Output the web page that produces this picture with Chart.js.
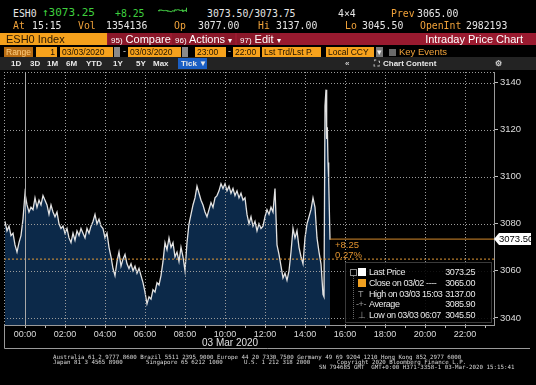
<!DOCTYPE html>
<html>
<head>
<meta charset="utf-8">
<script src="https://cdn.jsdelivr.net/npm/chart.js@4.4.0/dist/chart.umd.min.js"></script>
<style>
  body { margin: 0; background: #000; width: 536px; height: 385px; overflow: hidden; position: relative; font-family: "Liberation Sans", Arial, sans-serif; }
  .a { position: absolute; white-space: pre; }
  .m { font-family: "DejaVu Sans Mono", monospace; font-size: 9.8px; line-height: 12px; }
  .w { color: #e6e6e6; }
  .o { color: #f0a23a; }
  .g { color: #3fd03f; }
  .ob { position: absolute; top: 47px; height: 10px; background: #f7a21c; color: #1d1200; font-size: 8.5px; line-height: 10px; padding: 0 2px; box-sizing: border-box; white-space: pre; }
  .tb { position: absolute; top: 57px; font-size: 8px; line-height: 13px; color: #e8e8e8; font-weight: bold; }
  .btn { position: absolute; top: 33px; height: 12px; background: #8a1729; color: #fff; font-size: 11px; line-height: 12px; white-space: pre; }
  .btn small { font-size: 8px; }
  #legend { position: absolute; left: 345px; top: 262px; width: 147px; height: 61px; background: rgba(0,0,0,0.88); border: 1px solid #3a3a3a; box-sizing: border-box; z-index: 5; }
  .lr { position: absolute; left: 0; width: 145px; height: 10px; font-size: 9px; letter-spacing: -0.4px; line-height: 10px; color: #e8e8e8; }
  .lr .t { position: absolute; left: 23px; }
  .lr .v { position: absolute; right: 16px; }
  .lr .i { position: absolute; left: 12px; color: #9a9a9a; }
  .ft { position: absolute; font-family: "DejaVu Sans Mono", monospace; font-size: 5.8px; line-height: 6px; color: #d8d8d8; white-space: pre; }
</style>
</head>
<body>
<!-- ligne 1 / ligne 2 : cotation -->
<span class="a m w" style="left:13px;top:8px;">ESH0</span>
<span class="a m g" style="left:42px;top:7px;font-size:11px;">↑3073.25</span>
<span class="a m g" style="left:115px;top:8px;">+8.25</span>
<canvas id="spark" width="31" height="11" style="position:absolute;left:157px;top:4px;"></canvas>
<span class="a m w" style="left:207px;top:8px;">3073.50/3073.75</span>
<span class="a m w" style="left:338px;top:8px;">4×4</span>
<span class="a m o" style="left:391px;top:8px;">Prev</span>
<span class="a m w" style="left:417px;top:8px;">3065.00</span>

<span class="a m o" style="left:13px;top:20px;">At</span>
<span class="a m w" style="left:32px;top:20px;">15:15</span>
<span class="a m o" style="left:78px;top:20px;">Vol</span>
<span class="a m w" style="left:106px;top:20px;">1354136</span>
<span class="a m o" style="left:174px;top:20px;">Op</span>
<span class="a m w" style="left:198px;top:20px;">3077.00</span>
<span class="a m o" style="left:258px;top:20px;">Hi</span>
<span class="a m w" style="left:276px;top:20px;">3137.00</span>
<span class="a m o" style="left:345px;top:20px;">Lo</span>
<span class="a m w" style="left:362px;top:20px;">3045.50</span>
<span class="a m o" style="left:420px;top:20px;">OpenInt</span>
<span class="a m w" style="left:466px;top:20px;">2982193</span>

<!-- ligne 3 : barre rouge -->
<div class="a" style="left:0;top:33px;width:107px;height:12px;background:#f5a11c;color:#2a1800;font-size:11px;line-height:12px;padding-left:6px;box-sizing:border-box;">ESH0 Index</div>
<div class="a" style="left:107px;top:33px;width:429px;height:12px;background:#991a2f;"></div>
<div class="btn" style="left:108px;width:62px;padding-left:3px;box-sizing:border-box;"><small>95)</small> Compare</div>
<div class="btn" style="left:172px;width:63px;padding-left:3px;box-sizing:border-box;"><small>96)</small> Actions <small>▾</small></div>
<div class="btn" style="left:237px;width:43px;padding-left:3px;box-sizing:border-box;"><small>97)</small> Edit <small>▾</small></div>
<div class="a" style="right:13px;top:33px;height:12px;color:#fff;font-size:11px;line-height:12px;">Intraday Price Chart</div>

<!-- ligne 4 : range -->
<div class="ob" style="left:4px;width:29px;background:#b86c12;color:#ffcf80;">Range</div>
<div class="ob" style="left:36px;width:21px;text-align:right;">1</div>
<div class="ob" style="left:60px;width:53px;">03/03/2020</div>
<div class="ob" style="left:114px;width:6px;background:#8a8a8a;"></div>
<span class="a" style="left:123px;top:46px;color:#ddd;font-size:9px;">-</span>
<div class="ob" style="left:128px;width:53px;">03/03/2020</div>
<div class="ob" style="left:182px;width:6px;background:#8a8a8a;"></div>
<div class="ob" style="left:195px;width:31px;">23:00</div>
<span class="a" style="left:228px;top:46px;color:#ddd;font-size:9px;">-</span>
<div class="ob" style="left:233px;width:27px;">22:00</div>
<div class="ob" style="left:262px;width:59px;">Lst Trd/Lst P.</div>
<div class="ob" style="left:326px;width:48px;">Local CCY</div>
<div class="ob" style="left:376px;width:7px;background:#7a7a7a;color:#eee;padding:0 1px;">▾</div>
<div class="a" style="left:389px;top:49px;width:7px;height:7px;background:#6a6a6a;"></div>
<span class="a" style="left:399px;top:46px;color:#f0a23a;font-size:9.5px;line-height:11px;">Key Events</span>

<!-- ligne 5 : barre d'outils -->
<div class="a" style="left:0;top:57px;width:536px;height:13px;background:#232323;"></div>
<span class="tb" style="left:11px;">1D</span>
<span class="tb" style="left:30px;">3D</span>
<span class="tb" style="left:47px;">1M</span>
<span class="tb" style="left:66px;">6M</span>
<span class="tb" style="left:86px;">YTD</span>
<span class="tb" style="left:113px;">1Y</span>
<span class="tb" style="left:136px;">5Y</span>
<span class="tb" style="left:153px;">Max</span>
<div class="a" style="left:178px;top:58px;width:29px;height:11px;background:#1b5fc4;"></div>
<span class="tb" style="left:181px;">Tick ▼</span>
<span class="tb" style="left:345px;color:#cfcfcf;">«</span>
<span class="tb" style="left:374px;color:#bbb;">⛶</span>
<span class="tb" style="left:383px;">Chart Content</span>
<span class="tb" style="left:495px;color:#cfcfcf;">⚙</span>

<!-- graphique -->
<div style="position:absolute;left:0;top:70px;width:536px;height:280px;">
  <canvas id="priceChart"></canvas>
</div>
<span class="a" style="left:202px;top:337px;color:#e0e0e0;font-size:10px;">03 Mar 2020</span>

<!-- legende -->
<div id="legend">
  <div class="a" style="left:7px;top:8px;width:0;height:48px;border-left:1px dotted #666;"></div>
  <div class="lr" style="top:4px;"><span class="a" style="left:4px;top:2px;width:5px;height:5px;border:1px solid #888;background:#000;"></span><span class="a" style="left:12px;top:1px;width:8px;height:8px;background:#fff;"></span><span class="t">Last Price</span><span class="v">3073.25</span></div>
  <div class="lr" style="top:15px;"><span class="a" style="left:12px;top:1px;width:8px;height:8px;background:#f0a020;"></span><span class="t">Close on 03/02 ----</span><span class="v">3065.00</span></div>
  <div class="lr" style="top:25.5px;"><span class="i">T</span><span class="t">High on 03/03 15:03</span><span class="v">3137.00</span></div>
  <div class="lr" style="top:36px;"><span class="i" style="left:10px;">-+-</span><span class="t">Average</span><span class="v">3085.90</span></div>
  <div class="lr" style="top:46.5px;"><span class="i">⊥</span><span class="t">Low on 03/03 06:07</span><span class="v">3045.50</span></div>
</div>

<!-- pied de page -->
<div class="ft" style="left:53px;top:354px;">Australia 61 2 9777 8600 Brazil 5511 2395 9000 Europe 44 20 7330 7500 Germany 49 69 9204 1210 Hong Kong 852 2977 6000</div>
<div class="ft" style="left:53px;top:359px;">Japan 81 3 4565 8900</div>
<div class="ft" style="left:146px;top:359px;">Singapore 65 6212 1000</div>
<div class="ft" style="left:244px;top:359px;">U.S. 1 212 318 2000</div>
<div class="ft" style="left:337px;top:359px;">Copyright 2020 Bloomberg Finance L.P.</div>
<div class="ft" style="left:319px;top:364px;">SN 794685 GMT  GMT+0:00 H371-3358-1 03-Mar-2020 15:15:41</div>

<script>
// Ticks toutes les 6 minutes à partir de 23:00 (la veille) = -60 min
const startMinute = -60;
const stepMinute = 6;
const tickPrices = [
    3081, 3077, 3079, 3075, 3076, 3071, 3068, 3072, 3075, 3082,
    3093, 3088, 3085, 3087, 3086, 3091, 3087, 3090, 3088, 3092,
    3090, 3088, 3084, 3088, 3085, 3083, 3085, 3080, 3078, 3079,
    3076, 3078, 3074, 3072, 3076, 3073, 3077, 3075, 3078, 3076,
    3074, 3078, 3076, 3079, 3081, 3084, 3080, 3082, 3079, 3078,
    3074, 3076, 3070, 3066, 3061, 3058, 3064, 3068, 3062, 3065,
    3067, 3063, 3061, 3063, 3060, 3062, 3059, 3061, 3058, 3055,
    3051, 3046, 3049, 3048, 3052, 3051, 3055, 3054, 3058, 3064,
    3072, 3069, 3074, 3070, 3072, 3066, 3068, 3064, 3070, 3066,
    3060, 3072, 3080, 3084, 3088, 3091, 3096, 3093, 3090, 3088,
    3085, 3083, 3086, 3089, 3087, 3091, 3092, 3094, 3097, 3095,
    3097, 3094, 3096, 3093, 3095, 3092, 3094, 3091, 3093, 3090,
    3091, 3084, 3080, 3083, 3079, 3081, 3077, 3080, 3078, 3079,
    3083, 3086, 3084, 3087, 3085, 3095, 3071, 3067, 3062, 3057,
    3059, 3056, 3060, 3068, 3078, 3074, 3077, 3070, 3066, 3063,
    3074, 3080, 3083, 3086, 3091, 3087, 3074, 3068, 3063, 3050
];
// pic de 15:00 (plus fin)
const spikeMinutes = [897, 900, 903, 905, 907, 909, 911, 913, 915];
const spikePrices = [3049, 3130, 3137, 3116, 3121, 3106, 3099, 3086, 3073.25];

const tickHours = [0, 1, 2, 3, 4, 5, 6, 7, 8, 9, 10, 11, 12, 13, 14, 15, 16, 17, 18, 19, 20, 21, 22, 23];
const priceTicks = [3040, 3060, 3080, 3100, 3120, 3140];
const prevClose = 3065;
const lastQuote = 3073.5;
const xMin = -63, xMax = 1407;
const yMin = 3037, yMax = 3144.5;

const pricePoints = tickPrices.map((p, i) => ({ x: startMinute + i * stepMinute, y: p }))
    .concat(spikeMinutes.map((m, i) => ({ x: m, y: spikePrices[i] })));
const lastMinute = spikeMinutes[spikeMinutes.length - 1];

const FONT = '"Liberation Sans", Arial, sans-serif';
const GRID = '#9c9c9c';

// traits pointillés de la grille, au-dessus du remplissage
function dotted(ctx, x1, y1, x2, y2) {
    ctx.beginPath();
    ctx.moveTo(x1, y1);
    ctx.lineTo(x2, y2);
    ctx.stroke();
}

const overlayPlugin = {
    id: 'overlay',
    afterDatasetsDraw(chart) {
        const { ctx, chartArea: ca, scales: { x, y } } = chart;
        ctx.save();
        ctx.lineWidth = 1;
        ctx.strokeStyle = GRID;
        ctx.setLineDash([1, 2]);
        priceTicks.forEach(v => {
            const py = Math.round(y.getPixelForValue(v)) + 0.5;
            dotted(ctx, ca.left, py, ca.right, py);
        });
        tickHours.forEach(h => {
            if (h % 2 !== 0 || h === 0) return;
            const px = Math.round(x.getPixelForValue(h * 60)) + 0.5;
            dotted(ctx, px, ca.top, px, ca.bottom);
        });
        // bord gauche et haut
        dotted(ctx, ca.left + 0.5, ca.top, ca.left + 0.5, ca.bottom);
        dotted(ctx, ca.left, ca.top + 0.5, ca.right, ca.top + 0.5);
        ctx.setLineDash([]);
        // séparation du jour (00:00)
        ctx.strokeStyle = '#a8a8a8';
        const p0 = Math.round(x.getPixelForValue(0)) + 0.5;
        dotted(ctx, p0, ca.top, p0, ca.bottom);
        // cadre de l'axe du temps
        ctx.strokeStyle = '#9a9a9a';
        ctx.beginPath();
        ctx.moveTo(ca.left + 0.5, ca.bottom);
        ctx.lineTo(ca.left + 0.5, ca.bottom + 23.5);
        ctx.lineTo(530, ca.bottom + 23.5);
        ctx.stroke();

        // variation
        const lx = x.getPixelForValue(lastMinute);
        const ly = y.getPixelForValue(lastQuote);
        ctx.fillStyle = '#e0922e';
        ctx.font = '9.5px ' + FONT;
        ctx.textBaseline = 'middle';
        ctx.fillText('+8.25', lx + 5, ly + 6);
        ctx.fillText('0.27%', lx + 5, ly + 16);

        // étiquette du dernier cours
        const tx = ca.right + 2;
        ctx.fillStyle = '#ffffff';
        ctx.beginPath();
        ctx.moveTo(tx - 2, ly);
        ctx.lineTo(tx + 3, ly - 6);
        ctx.lineTo(tx + 35, ly - 6);
        ctx.lineTo(tx + 35, ly + 6);
        ctx.lineTo(tx + 3, ly + 6);
        ctx.closePath();
        ctx.fill();
        ctx.fillStyle = '#000';
        ctx.font = '9.5px ' + FONT;
        ctx.fillText('3073.50', tx + 3, ly + 0.5);
        ctx.restore();
    }
};

function hhmm(v) {
    const h = Math.round(v / 60);
    return (h < 10 ? '0' : '') + h + ':00';
}

document.addEventListener('DOMContentLoaded', () => {
    new Chart(document.getElementById('priceChart'), {
        type: 'line',
        data: {
            datasets: [
                {
                    data: [{ x: xMin, y: prevClose }, { x: xMax, y: prevClose }],
                    borderColor: '#e39a36',
                    borderWidth: 1,
                    borderDash: [2, 2],
                    pointRadius: 0,
                    fill: false,
                    order: 1
                },
                {
                    data: [{ x: lastMinute, y: lastQuote }, { x: xMax, y: lastQuote }],
                    borderColor: '#d68a2c',
                    borderWidth: 1,
                    pointRadius: 0,
                    fill: false,
                    order: 1
                },
                {
                    data: pricePoints,
                    borderColor: '#e2e2e2',
                    borderWidth: 1.3,
                    backgroundColor: '#0c2949',
                    fill: 'start',
                    pointRadius: 0,
                    tension: 0,
                    order: 2
                }
            ]
        },
        options: {
            responsive: true,
            maintainAspectRatio: false,
            animation: false,
            layout: { padding: { left: 4, top: 2, right: 0, bottom: 2 } },
            plugins: { legend: { display: false }, tooltip: { enabled: false } },
            scales: {
                x: {
                    type: 'linear',
                    min: xMin,
                    max: xMax,
                    afterBuildTicks: (s) => { s.ticks = tickHours.map(h => ({ value: h * 60 })); },
                    afterFit: (s) => { s.height = 23; s.paddingLeft = 0; s.paddingRight = 0; },
                    ticks: {
                        color: '#dcdcdc',
                        font: { size: 9, family: FONT },
                        padding: 1,
                        maxRotation: 0,
                        autoSkip: false,
                        callback: (v) => (v % 120 === 0 ? hhmm(v) : '')
                    },
                    grid: {
                        drawOnChartArea: false,
                        tickColor: '#bdbdbd',
                        tickLength: 3
                    },
                    border: { color: '#9a9a9a' }
                },
                y: {
                    position: 'right',
                    min: yMin,
                    max: yMax,
                    afterBuildTicks: (s) => { s.ticks = priceTicks.map(v => ({ value: v })); },
                    afterFit: (s) => { s.width = 42; s.paddingTop = 0; s.paddingBottom = 0; },
                    ticks: {
                        color: '#dcdcdc',
                        font: { size: 9.5, family: FONT },
                        padding: 2,
                        callback: (v) => String(v)
                    },
                    grid: {
                        drawOnChartArea: false,
                        tickColor: '#bdbdbd',
                        tickLength: 4
                    },
                    border: { color: '#9a9a9a' }
                }
            }
        },
        plugins: [overlayPlugin]
    });

    // mini graphique de l'en-tête
    new Chart(document.getElementById('spark'), {
        type: 'line',
        data: { datasets: [{ data: pricePoints, borderColor: '#45c845', borderWidth: 1, pointRadius: 0, fill: false }] },
        options: {
            responsive: false,
            animation: false,
            events: [],
            layout: { padding: 1 },
            plugins: { legend: { display: false }, tooltip: { enabled: false } },
            scales: {
                x: { type: 'linear', display: false, min: startMinute, max: lastMinute },
                y: { display: false }
            }
        }
    });
});
</script>
</body>
</html>
